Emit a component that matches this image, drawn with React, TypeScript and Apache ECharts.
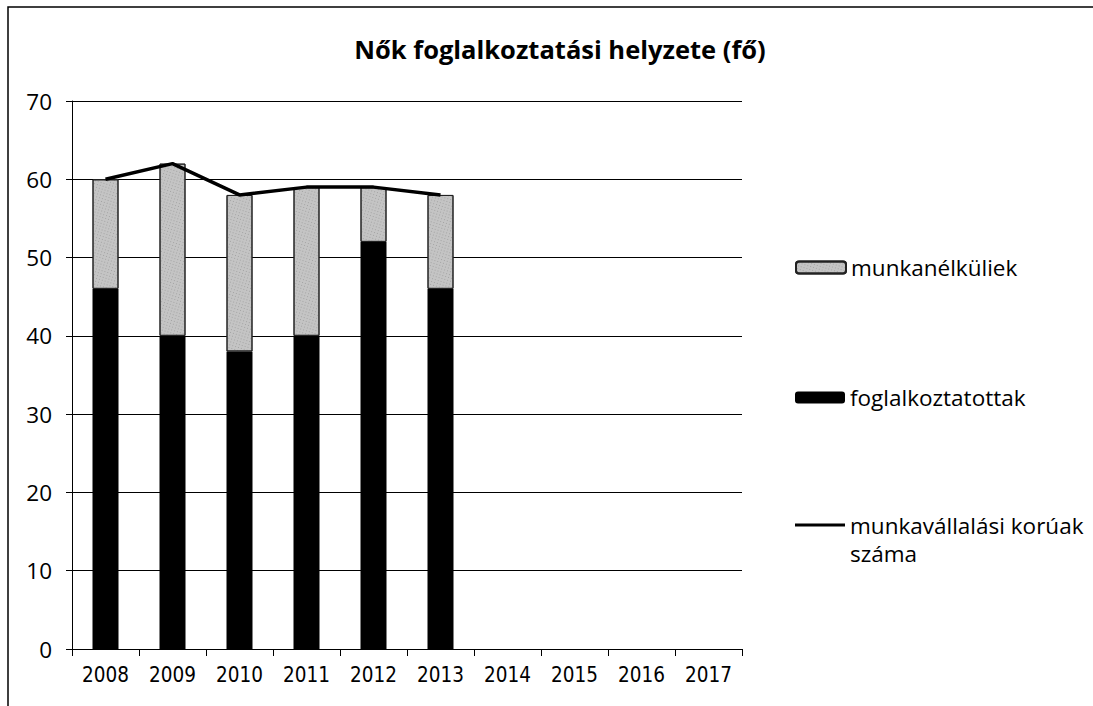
import React, { useEffect, useRef } from "react";
import * as echarts from "echarts";

const categories = ["2008", "2009", "2010", "2011", "2012", "2013", "2014", "2015", "2016", "2017"];
const employed = [46, 40, 38, 40, 52, 46, null, null, null, null];
const unemployed = [14, 22, 20, 19, 7, 12, null, null, null, null];
const workingAge = [60, 62, 58, 59, 59, 58, null, null, null, null];
const yTicks = { min: 0, max: 70, interval: 10 };

const FONT = "Open Sans";
const COND = "DejaVu Sans Condensed";

export default function App() {
  const ref = useRef<HTMLDivElement>(null);
  useEffect(() => {
    if (!ref.current) return;
    const chart = echarts.init(ref.current, undefined, { renderer: "svg" });
    const legendText = { fontSize: 22.5, color: "#000", fontFamily: FONT };
    chart.setOption({
      animation: false,
      backgroundColor: "#fff",
      title: {
        text: "Nők foglalkoztatási helyzete (fő)",
        left: 555,
        textAlign: "center",
        top: 31,
        textStyle: { fontSize: 25.5, fontWeight: "bold", color: "#000", fontFamily: FONT },
      },
      grid: { left: 72, right: 351, top: 101, bottom: 57 },
      legend: [
        {
          data: ["munkanélküliek"],
          left: 790,
          top: 251,
          itemWidth: 50,
          itemHeight: 12,
          textStyle: legendText,
        },
        {
          data: ["foglalkoztatottak"],
          left: 790,
          top: 381,
          itemWidth: 50,
          itemHeight: 12,
          textStyle: legendText,
        },
        {
          data: [{ name: "munkavállalási korúak száma", icon: "rect" }],
          left: 790,
          top: 478,
          itemWidth: 50,
          itemHeight: 3,
          formatter: () => "\nmunkavállalási korúak\nszáma",
          textStyle: { ...legendText, lineHeight: 28 },
        },
      ],
      xAxis: {
        type: "category",
        data: categories,
        boundaryGap: true,
        axisLine: { lineStyle: { color: "#000", width: 1 } },
        axisTick: { show: true, length: 7, lineStyle: { color: "#000" } },
        axisLabel: { fontSize: 20.5, color: "#000", fontFamily: COND, margin: 15 },
      },
      yAxis: {
        type: "value",
        min: yTicks.min,
        max: yTicks.max,
        interval: yTicks.interval,
        axisLine: { show: true, lineStyle: { color: "#000", width: 1 } },
        axisTick: { show: true, length: 6, lineStyle: { color: "#000" } },
        axisLabel: { fontSize: 22.5, color: "#000", fontFamily: FONT, margin: 20 },
        splitLine: { lineStyle: { color: "#000", width: 1 } },
      },
      series: [
        {
          name: "foglalkoztatottak",
          type: "bar",
          stack: "total",
          data: employed,
          barWidth: 26,
          itemStyle: { color: "#000" },
        },
        {
          name: "munkanélküliek",
          type: "bar",
          stack: "total",
          data: unemployed,
          barWidth: 26,
          itemStyle: {
            color: "#c4c4c4",
            borderColor: "#222",
            borderWidth: 1,
            decal: {
              symbol: "rect",
              symbolSize: 0.7,
              color: "rgba(40,40,40,0.6)",
              dashArrayX: [1, 2],
              dashArrayY: [1, 2],
              rotation: 0.3,
            },
          },
        },
        {
          name: "munkavállalási korúak száma",
          type: "line",
          data: workingAge,
          symbol: "none",
          lineStyle: { color: "#000", width: 3.5 },
          itemStyle: { color: "#000" },
        },
      ],
      graphic: [
        {
          type: "rect",
          shape: { x: 8, y: 7, width: 1200, height: 720 },
          style: { fill: "none", stroke: "#000", lineWidth: 1.5 },
          silent: true,
        },
      ],
    });
    return () => chart.dispose();
  }, []);
  return (
    <div
      ref={ref}
      style={{ position: "fixed", left: 0, top: 0, width: 1093, height: 706 }}
    />
  );
}
